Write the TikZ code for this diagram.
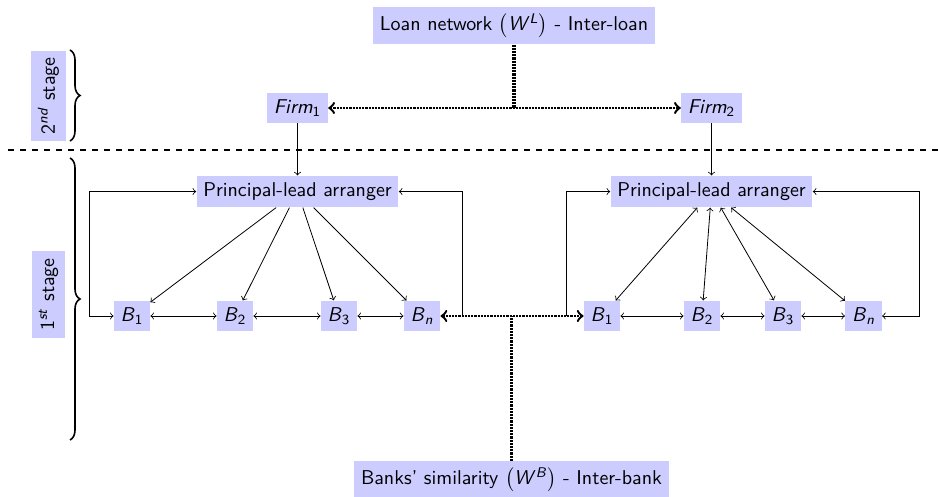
\documentclass[tikz,border=0pt]{standalone}
\usetikzlibrary{positioning, decorations.pathreplacing}
\tikzset{
    box/.style={fill=blue!20, font=\sffamily}, % every coloured label
    tie/.style={line width=1.2pt, dash pattern=on 1.1pt off 0.5pt}, % network links (loan and banks)
    stagebrace/.style={decorate, decoration={brace, amplitude=5pt}, thick}, % stage braces
}
\newcommand{\sub}[2]{\textit{#1}\textsubscript{#2}}

\begin{document}
\begin{tikzpicture}[x=0.5pt, y=-0.5pt]
\useasboundingbox (0,0) rectangle (938,497);

% networks
\node[box] (loan) at (514,25.5) {Loan network $\big($\textit{W}\textsuperscript{\textit{L}}$\big)$ - Inter-loan};
\node[box] (banks) at (511.5,480) {Banks' similarity $\big($\textit{W}\textsuperscript{\textit{B}}$\big)$ - Inter-bank};

% second stage
\node[box] (firm1) at (297.5,108) {\sub{Firm}{1}};
\node[box] (firm2) at (711.5,108) {\sub{Firm}{2}};

% first stage
\node[box, below=26pt of firm1] (pla1) {Principal-lead arranger};
\node[box, below=26pt of firm2] (pla2) {Principal-lead arranger};
\node[box] (b11) at (132,316) {\sub{B}{1}};
\node[box] (b12) at (235,316) {\sub{B}{2}};
\node[box] (b13) at (339,316) {\sub{B}{3}};
\node[box] (b1n) at (422,316) {\sub{B}{\textit{n}}};
\node[box] (b21) at (602,316) {\sub{B}{1}};
\node[box] (b22) at (702,316) {\sub{B}{2}};
\node[box] (b23) at (783,316) {\sub{B}{3}};
\node[box] (b2n) at (863.5,316) {\sub{B}{\textit{n}}};

% stages
\draw[thick, dashed] (8,150) -- (938,150);
\draw[stagebrace] (70,50) -- (70,141);
\draw[stagebrace] (70,158) -- (70,440);
\node[box, rotate=90] (stage2) at (48.5,96) {2\textsuperscript{\textit{nd}} stage};
\node[box, rotate=90] (stage1) at (48.5,294.5) {1\textsuperscript{\textit{st}} stage};

\draw[->] (firm1) -- (pla1);
\draw[->] (firm2) -- (pla2);
\foreach \b in {b11,b12,b13,b1n} \draw[->] (pla1) -- (\b);
\foreach \b in {b21,b22,b23,b2n} \draw[<->] (pla2) -- (\b);
\draw[<->] (b11) -- (b12);
\draw[<->] (b12) -- (b13);
\draw[<->] (b13) -- (b1n);
\draw[<->] (b21) -- (b22);
\draw[<->] (b22) -- (b23);
\draw[<->] (b23) -- (b2n);
\draw[<->] (b11.west) -- ++(-24,0) |- (pla1.west);
\draw[->] (b1n.east) ++(22,0) |- (pla1.east);
\draw[->] (b21.west) ++(-17,0) |- (pla2.west);
\draw[<->] (b2n.east) -- ++(37,0) |- (pla2.east);

% inter-loan and inter-bank links
\draw[tie, <->] (firm1) -- (firm2);
\draw[tie, line width=1.6pt] (loan) -- (loan |- firm1);
\draw[tie, <->] (b1n) -- (b21);
\draw[tie, line width=1.6pt] (banks) -- (banks |- b1n);
\end{tikzpicture}
\end{document}
